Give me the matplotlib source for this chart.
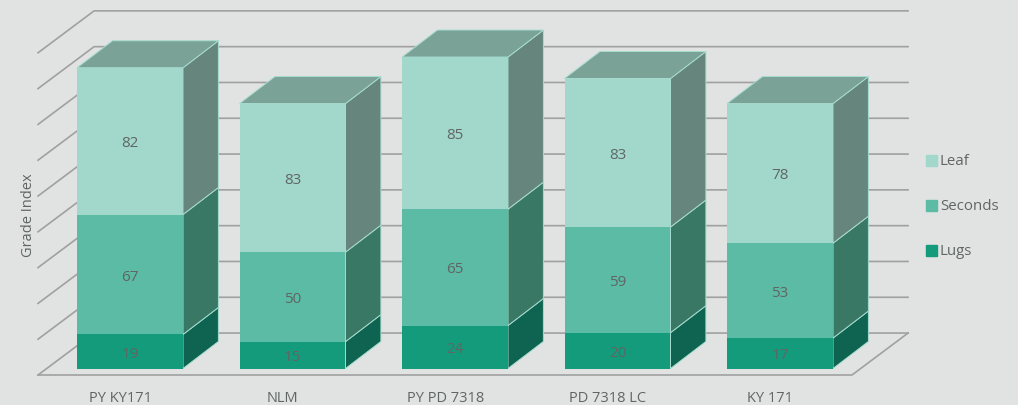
import matplotlib
matplotlib.use("Agg")
import matplotlib.pyplot as plt
from matplotlib.patches import Patch
import numpy as np


CATEGORIES = ["PY KY171", "NLM", "PY PD 7318", "PD 7318 LC", "KY 171"]
LUGS = [19, 15, 24, 20, 17]
SECONDS = [67, 50, 65, 59, 53]
LEAF = [82, 83, 85, 83, 78]
GRID_LEVELS = [0, 20, 40, 60, 80, 100, 120, 140, 160, 180]

COL_BG = "#E1E3E2"
COL_GRID = "#A0A0A0"
COL_TEXT = "#5F6664"
COL_EDGE = "#A6DCCF"
COL_TOP = "#7BA297"

# front colour, side colour for each stacked series
SERIES = [
    ("Lugs", LUGS, "#149B7B", "#0E6450"),
    ("Seconds", SECONDS, "#5BBBA5", "#397864"),
    ("Leaf", LEAF, "#A2D8CB", "#66867D"),
]

BAR_WIDTH = 0.652
BAR_DX = 0.218
BAR_DY = 15.1

WALL_LEFT = -0.566
WALL_RIGHT = 4.443
WALL_DX = 0.345
WALL_FRONT = -3.63
WALL_BACK = 19.8

plt.rcParams.update({
    "font.family": ["Open Sans", "DejaVu Sans"],
    "font.size": 10.5,
})


def draw_walls(ax):
    for level in GRID_LEVELS:
        ax.plot(
            [WALL_LEFT, WALL_LEFT + WALL_DX, WALL_RIGHT + WALL_DX],
            [level + WALL_FRONT, level + WALL_BACK, level + WALL_BACK],
            color=COL_GRID,
            lw=1.2,
            zorder=1,
            solid_joinstyle="miter",
        )

    # floor outline in front of the back wall
    ax.plot(
        [WALL_LEFT, WALL_RIGHT, WALL_RIGHT + WALL_DX],
        [WALL_FRONT, WALL_FRONT, WALL_BACK],
        color=COL_GRID,
        lw=1.2,
        zorder=1,
    )


def draw_bars(ax):
    x = np.arange(len(CATEGORIES))
    bottom = np.zeros(len(CATEGORIES))

    for name, values, col_front, col_side in SERIES:
        values = np.array(values)
        top = bottom + values

        for i in x:
            right = i + BAR_WIDTH / 2
            ax.fill(
                [right, right + BAR_DX, right + BAR_DX, right],
                [bottom[i], bottom[i] + BAR_DY, top[i] + BAR_DY, top[i]],
                facecolor=col_side,
                edgecolor=COL_EDGE,
                lw=0.7,
                zorder=3,
            )

        ax.bar(
            x,
            values,
            width=BAR_WIDTH,
            bottom=bottom,
            color=col_front,
            lw=0,
            zorder=4,
            label=name,
        )

        for i in x:
            ax.text(
                i,
                bottom[i] + values[i] / 2 - 1.4,
                str(values[i]),
                ha="center",
                va="center",
                color=COL_TEXT,
                fontsize=11,
                zorder=6,
            )

        bottom = top

    # lids of the stacks
    for i in x:
        left = i - BAR_WIDTH / 2
        right = i + BAR_WIDTH / 2
        ax.fill(
            [left, left + BAR_DX, right + BAR_DX, right],
            [bottom[i], bottom[i] + BAR_DY, bottom[i] + BAR_DY, bottom[i]],
            facecolor=COL_TOP,
            edgecolor=COL_EDGE,
            lw=0.7,
            zorder=3,
        )


def main():
    fig = plt.figure(figsize=(10.18, 4.05), dpi=100, facecolor=COL_BG)
    ax = fig.add_axes([0, 0, 1, 1])
    ax.set_xlim(-0.8, 5.4646)
    ax.set_ylim(-20.39, 205.87)
    ax.axis("off")

    draw_walls(ax)
    draw_bars(ax)

    for i, name in enumerate(CATEGORIES):
        ax.text(i - 0.06, -16.9, name, ha="center", va="center", color=COL_TEXT)

    ax.text(
        -0.625,
        85.7,
        "Grade Index",
        rotation=90,
        ha="center",
        va="center",
        color=COL_TEXT,
    )

    handles = [Patch(color=s[2], label=s[0]) for s in reversed(SERIES)]
    ax.legend(
        handles=handles,
        loc="center left",
        bbox_to_anchor=(0.9096, 0.489),
        frameon=False,
        handlelength=0.73,
        handleheight=0.73,
        handletextpad=0.2,
        labelspacing=2.0,
        labelcolor=COL_TEXT,
        fontsize=10.8,
        borderpad=0,
        borderaxespad=0,
    )

    fig.savefig("out.png", dpi=100, facecolor=COL_BG)


if __name__ == "__main__":
    main()
